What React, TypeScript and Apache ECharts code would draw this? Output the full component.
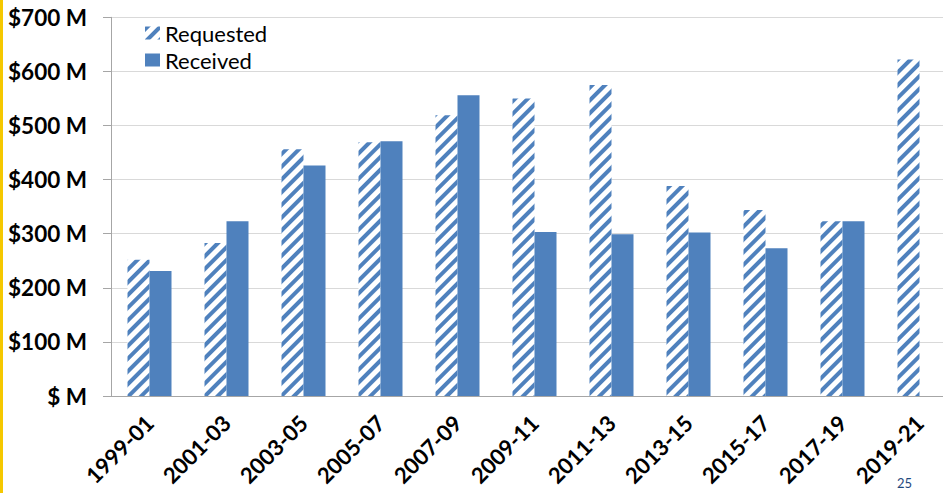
import React, { useEffect, useRef } from "react";
import * as echarts from "echarts";

const categories = ["1999-01", "2001-03", "2003-05", "2005-07", "2007-09", "2009-11", "2011-13", "2013-15", "2015-17", "2017-19", "2019-21"];
const requested = [252, 283, 456, 469, 519, 550, 575, 388, 344, 323, 622];
const received: (number | null)[] = [231, 323, 426, 471, 556, 303, 299, 302, 273, 323, null];
const yTicks = [0, 100, 200, 300, 400, 500, 600, 700];

const BLUE = "#4F81BD";

export default function App() {
  const ref = useRef<HTMLDivElement>(null);
  useEffect(() => {
    document.body.style.margin = "0";
    const chart = echarts.init(ref.current!, null, { renderer: "svg" });
    chart.setOption({
      animation: false,
      backgroundColor: "#fff",
      textStyle: { fontFamily: "Lato" },
      grid: { left: 111, right: -15, top: 17.3, bottom: 97, containLabel: false, outerBoundsMode: "none" },
      legend: {
        orient: "vertical",
        left: 145,
        top: 22,
        padding: 0,
        icon: "rect",
        itemWidth: 15,
        itemHeight: 13,
        itemGap: 5,
        textStyle: { fontSize: 22, color: "#000", fontFamily: "Lato" },
        data: ["Requested", "Received"],
      },
      xAxis: {
        type: "category",
        data: categories,
        axisLine: { lineStyle: { color: "#A6A6A6" } },
        axisTick: { length: 8, lineStyle: { color: "#A6A6A6" } },
        axisLabel: {
          rotate: 45,
          fontSize: 22,
          fontWeight: "bold",
          color: "#000",
          margin: 23,
          padding: [24, 0, 0, 0],
          fontFamily: "Lato",
        },
      },
      yAxis: {
        type: "value",
        min: yTicks[0],
        max: yTicks[yTicks.length - 1],
        interval: 100,
        axisLine: { show: true, lineStyle: { color: "#A6A6A6" } },
        axisTick: { show: true, length: 8, lineStyle: { color: "#A6A6A6" } },
        splitLine: { lineStyle: { color: "#D9D9D9" } },
        axisLabel: {
          fontSize: 22.5,
          fontWeight: "bold",
          color: "#000",
          margin: 24,
          fontFamily: "Lato",
          formatter: (v: number) => (v === 0 ? "$ M" : `$${v} M`),
        },
      },
      series: [
        {
          name: "Requested",
          type: "bar",
          data: requested,
          barWidth: 22,
          barGap: "0%",
          itemStyle: {
            color: "#FFFFFF",
            decal: {
              symbol: "rect",
              symbolSize: 1,
              dashArrayX: [1, 0],
              dashArrayY: [4, 5],
              rotation: -Math.PI / 4,
              color: BLUE,
            },
          },
        },
        {
          name: "Received",
          type: "bar",
          data: received,
          barWidth: 22,
          barGap: "0%",
          itemStyle: { color: BLUE },
        },
      ],
      graphic: [
        { type: "rect", left: 0, top: 0, shape: { width: 3, height: 493 }, style: { fill: "#F5C800" } },
        { type: "text", left: 897, top: 476, style: { text: "25", fill: "#1F497D", fontSize: 13, fontFamily: "Lato" } },
      ],
    });
    return () => chart.dispose();
  }, []);
  return <div ref={ref} style={{ width: 943, height: 493 }} />;
}
